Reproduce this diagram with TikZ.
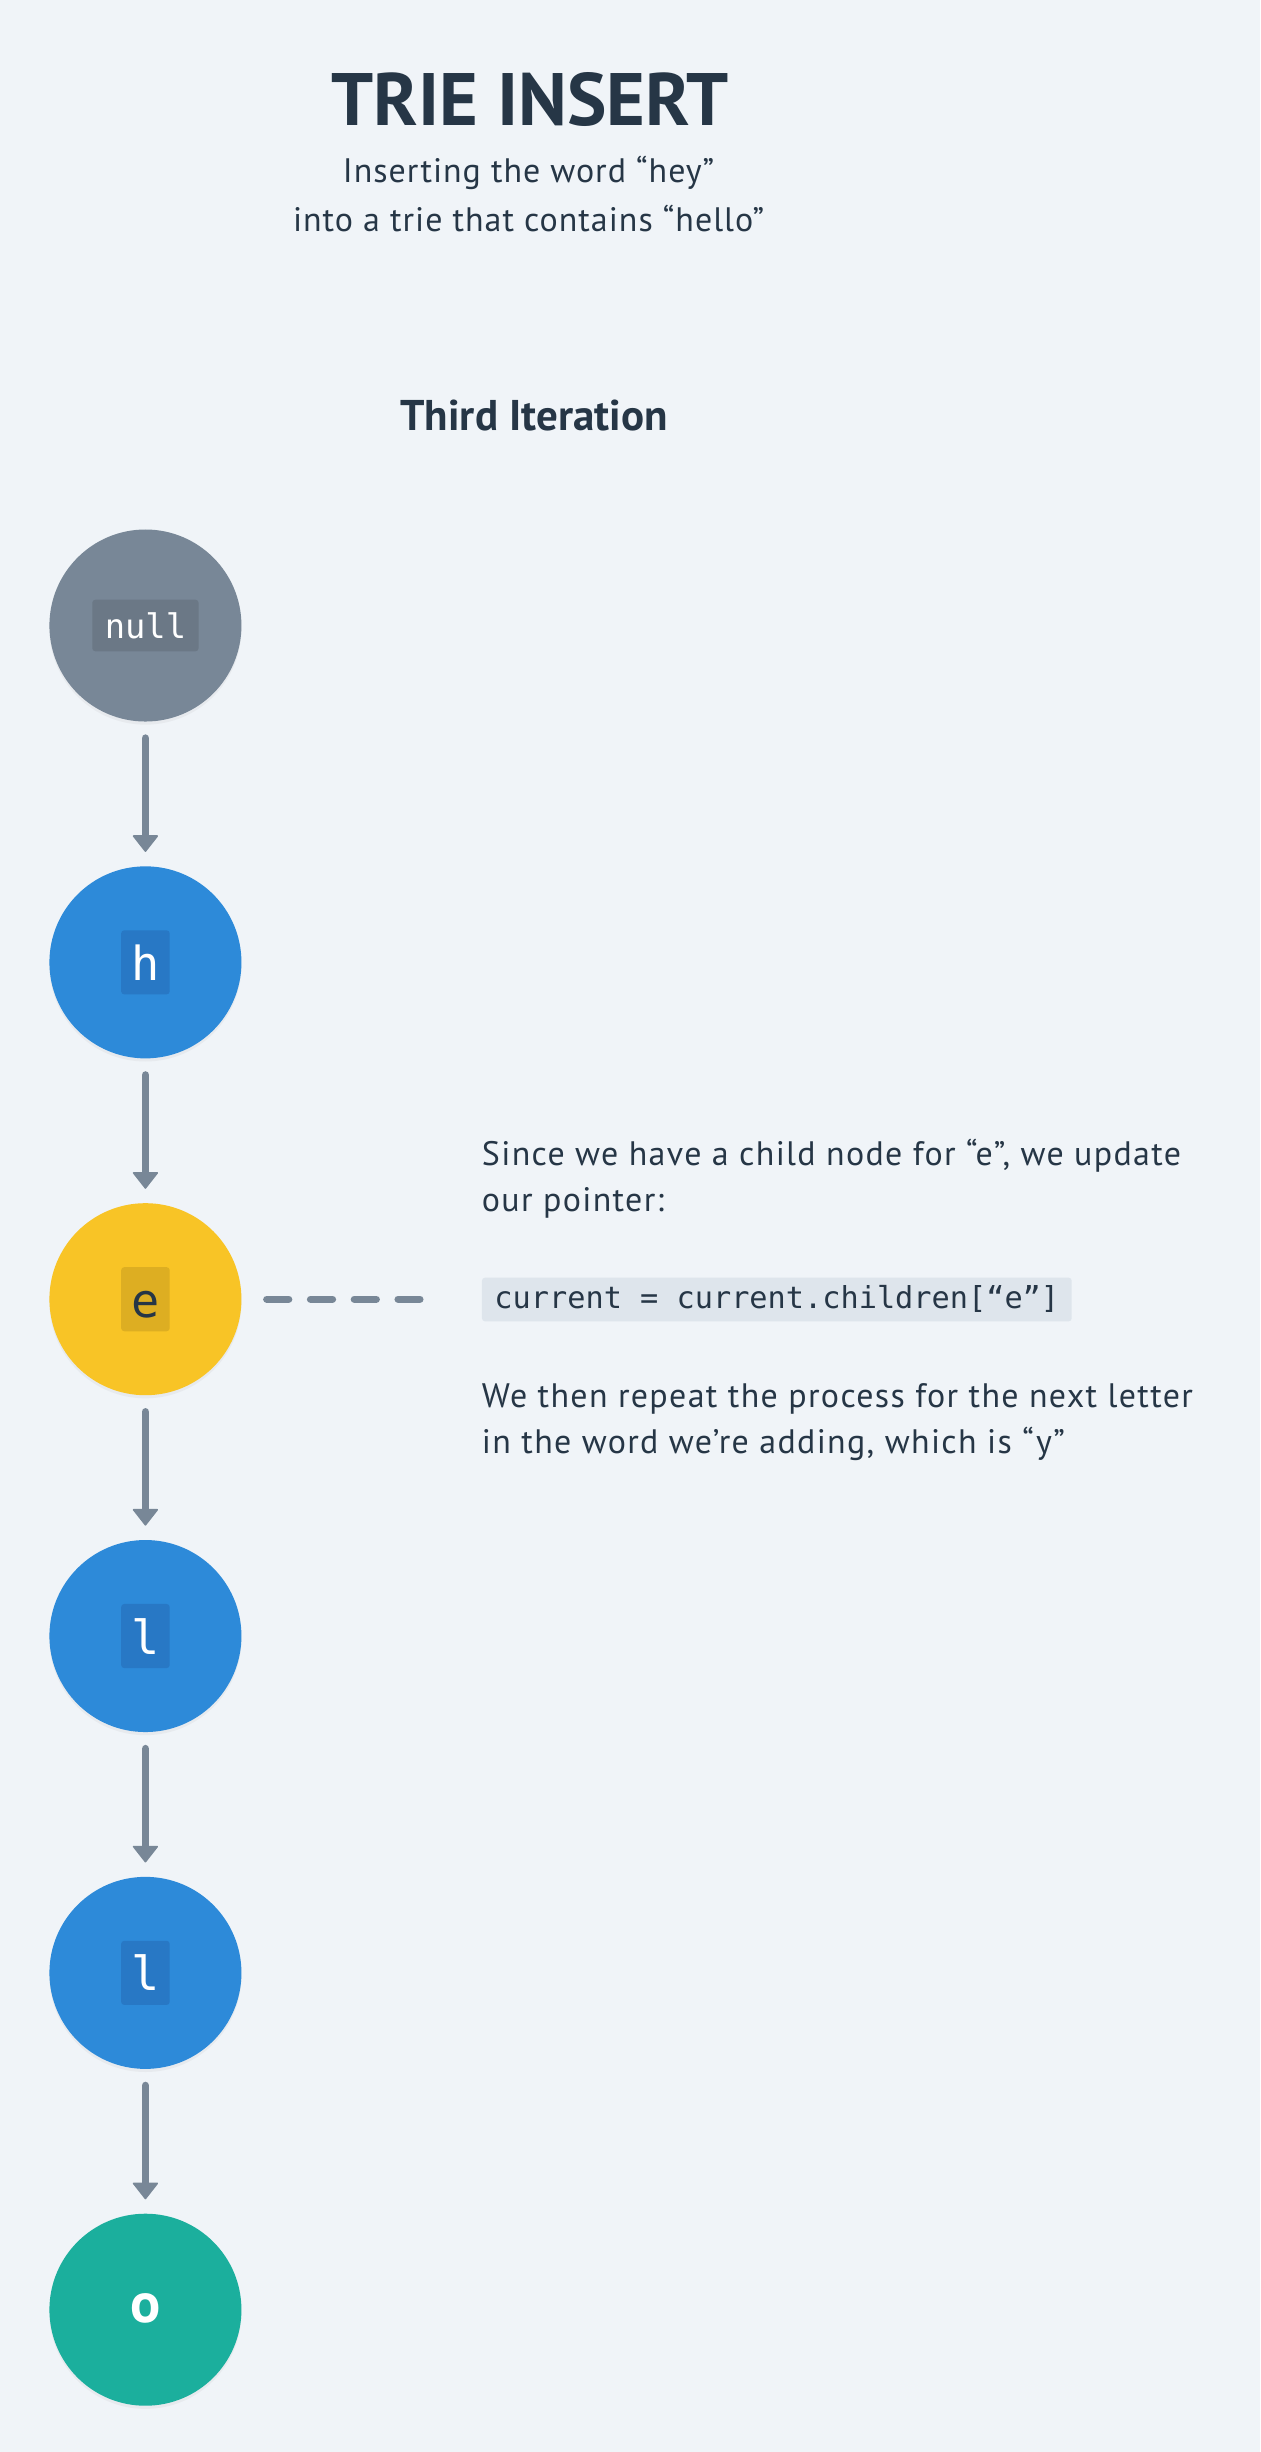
\documentclass[tikz,border=0pt]{standalone}
\usepackage{fontspec}
\setmainfont{PT Sans}
\newfontfamily\subfont{PT Sans}[LetterSpace=3]
\newfontfamily\bodyfont{PT Sans}[LetterSpace=4]
\newfontfamily\codefont{DejaVu Sans Mono}
\usetikzlibrary{positioning, arrows.meta, shadows}

\definecolor{paper}{HTML}{F0F4F8}
\definecolor{ink}{HTML}{263646}
\definecolor{slate}{HTML}{788797}
\definecolor{slatedark}{HTML}{6B7886}
\definecolor{trieblue}{HTML}{2D8AD9}
\definecolor{triebluedark}{HTML}{2878C5}
\definecolor{triegold}{HTML}{F8C426}
\definecolor{triegolddark}{HTML}{DDAE22}
\definecolor{trieteal}{HTML}{1BAF9D}
\definecolor{codebg}{HTML}{DEE5EC}

\tikzset{
    trie/.style={circle, minimum size=122.8pt, inner sep=0pt, fill=#1,
        drop shadow={shadow xshift=0pt, shadow yshift=-2pt, opacity=0.08}},
    key/.style={fill=#1, rounded corners=2pt, inner xsep=6.5pt, inner ysep=9pt,
        text height=23pt, text depth=0pt, text=white, font=\codefont\fontsize{30}{30}\selectfont},
    link/.style={line width=5pt, slate, line cap=round, shorten <=10.5pt, shorten >=9pt,
        -{Stealth[inset=0pt, length=11pt, width=17pt, round, line width=1pt]}},
    pointer/.style={line width=4.7pt, slate, line cap=round, dash pattern=on 14pt off 14pt,
        shorten <=16pt, shorten >=39.5pt},
    says/.style={anchor=base west, inner sep=0pt, text=ink, font=\bodyfont\fontsize{21.7}{30}\selectfont}
}

\begin{document}
\begin{tikzpicture}[x=1pt, y=-1pt, node distance=92.2pt]
    \fill[paper] (0,0) rectangle (806,1568);
    \useasboundingbox (0,0) rectangle (806,1568);
    \node[anchor=base, text=ink, font=\bfseries\fontsize{47.5}{47.5}\selectfont] (title) at (339,80) {TRIE INSERT};
    \node[anchor=base, inner sep=0pt, align=center, text=ink, font=\subfont\fontsize{21.7}{31}\selectfont] (sub) at (338,148)
        {Inserting the word “hey”\\into a trie that contains “hello”};
    \node[anchor=base, text=ink, font=\bfseries\fontsize{27.5}{28}\selectfont] (iter) at (341.5,275) {Third Iteration};

    \node[trie=slate] (root) at (93,400) {};
    \node[trie=trieblue, below=of root] (h) {};
    \node[trie=triegold, below=of h] (e) {};
    \node[trie=trieblue, below=of e] (l1) {};
    \node[trie=trieblue, below=of l1] (l2) {};
    \node[trie=trieteal, below=of l2] (o) {};

    \node[key=slatedark, inner xsep=8pt, inner ysep=8.3pt, text height=16.4pt, font=\codefont\fontsize{21.6}{22}\selectfont] (rootkey) at (root) {null};
    \node[key=triebluedark] (hkey) at (h) {h};
    \node[key=triegolddark, text=ink] (ekey) at (e) {e};
    \node[key=triebluedark] (l1key) at (l1) {l};
    \node[key=triebluedark] (l2key) at (l2) {l};
    \node[text=white, font=\bfseries\fontsize{36}{36}\selectfont] (okey) at ([yshift=1pt]o) {o};

    \draw[link] (root) -- (h);
    \draw[link] (h) -- (e);
    \draw[link] (e) -- (l1);
    \draw[link] (l1) -- (l2);
    \draw[link] (l2) -- (o);

    \node[says] (since) at (308,745) {Since we have a child node for “e”, we update};
    \node[says] (since2) at (308,775) {our pointer:};
    \node[fill=codebg, rounded corners=2pt, anchor=base west, inner xsep=8pt, inner ysep=4pt,
        text height=16pt, text depth=4pt, text=ink, font=\codefont\fontsize{19.35}{20}\selectfont]
        (code) at (308,837) {current = current.children[“e”]};
    \node[says] (then) at (308,900) {We then repeat the process for the next letter};
    \node[says] (then2) at (308,929.5) {in the word we’re adding, which is “y”};

    \draw[pointer] (e.east) -- (e.east -| code.west);
\end{tikzpicture}
\end{document}
